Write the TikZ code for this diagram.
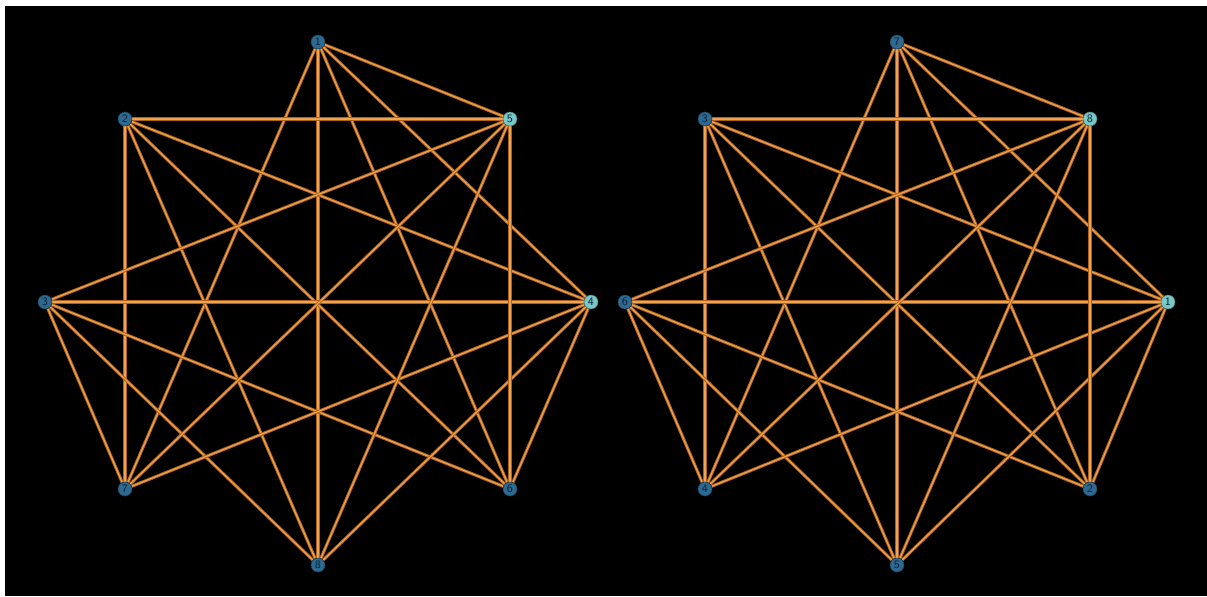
\documentclass[tikz,border=0pt]{standalone}
\usepackage{tikz}
\usetikzlibrary{backgrounds}

\definecolor{edgeout}{RGB}{175,95,25}
\definecolor{edgein}{RGB}{235,165,85}
\definecolor{vdark}{RGB}{45,105,145}
\definecolor{vlight}{RGB}{120,200,200}
\definecolor{vtext}{RGB}{15,35,55}

\tikzset{
  vert/.style={circle,inner sep=0pt,minimum size=0.28cm,fill=vdark,draw=vdark!60!black,line width=0.3pt,
    text=vtext,font=\sffamily\fontsize{6.5}{6.5}\selectfont},
  vhub/.style={vert,fill=vlight,draw=vlight!60!black},
  edgeglow/.style={draw=edgeout,line width=1.8pt},
  edgecore/.style={draw=edgein,line width=0.7pt}
}

\begin{document}
\begin{tikzpicture}[x=0.02cm,y=-0.02cm]
\useasboundingbox (0,0) rectangle (1207,596);
% left drawing
\node[vert] (a1) at (318,42) {1};
\node[vert] (a2) at (125,119) {2};
\node[vhub] (a5) at (510,119) {5};
\node[vert] (a3) at (45,302) {3};
\node[vhub] (a4) at (591,302) {4};
\node[vert] (a7) at (125,489) {7};
\node[vert] (a6) at (510,489) {6};
\node[vert] (a8) at (318,565) {8};
% right drawing
\node[vert] (b7) at (897,42) {7};
\node[vert] (b3) at (705,119) {3};
\node[vhub] (b8) at (1090,119) {8};
\node[vert] (b6) at (625,302) {6};
\node[vhub] (b1) at (1168,302) {1};
\node[vert] (b4) at (705,489) {4};
\node[vert] (b2) at (1090,489) {2};
\node[vert] (b5) at (897,565) {5};
\begin{pgfonlayer}{background}
\fill[white] (0,0) rectangle (1207,596);
\fill[black] (5,6) rectangle (1207,596);
\foreach \u/\v in {1/5,1/8,1/7,1/6,1/4,2/5,2/7,2/8,2/6,2/4,3/5,3/4,3/7,3/8,3/6,4/7,4/8,4/6,5/7,5/6,5/8} {
  \draw[edgeglow] (a\u) -- (a\v);
  \draw[edgecore] (a\u) -- (a\v);
}
\foreach \u/\v in {7/8,7/5,7/4,7/2,7/1,3/8,3/4,3/5,3/2,3/1,6/8,6/1,6/4,6/5,6/2,1/4,1/5,1/2,8/4,8/2,8/5} {
  \draw[edgeglow] (b\u) -- (b\v);
  \draw[edgecore] (b\u) -- (b\v);
}
\end{pgfonlayer}
\end{tikzpicture}
\end{document}
